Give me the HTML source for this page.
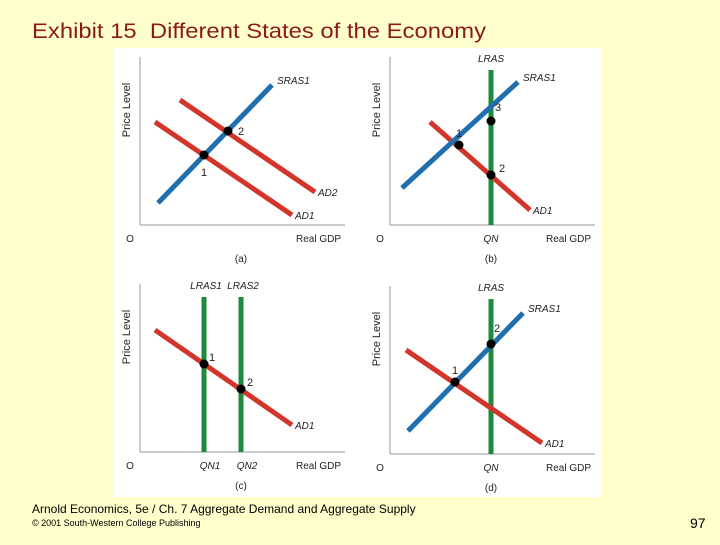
<!DOCTYPE html>
<html><head><meta charset="utf-8"><style>
body{margin:0;width:720px;height:540px;background:#ffffcc;overflow:hidden;font-family:"Liberation Sans",sans-serif}
</style></head><body>
<svg width="720" height="540" xmlns="http://www.w3.org/2000/svg">
<rect width="720" height="540" fill="#ffffcc"/>
<text x="32" y="38" font-size="21" fill="#8b1a1a" xml:space="preserve" textLength="454" lengthAdjust="spacingAndGlyphs">Exhibit 15  Different States of the Economy</text>
<rect x="113" y="48" width="489" height="449" fill="#fff"/>
<g id="charts"></g>
<text x="32" y="513" font-size="12" fill="#000">Arnold Economics, 5e / Ch. 7  Aggregate Demand and Aggregate Supply</text>
<text x="32" y="526" font-size="9" fill="#000">© 2001 South-Western College Publishing</text>
<text x="690" y="528" font-size="14" fill="#000">97</text>
</svg>
<script>
const panelNames=["a","b","c","d"];
const origins=[[140,225],[390,225],[140,452],[390,454]];
const lrasX=[[],[101],[64,101],[101]];
const srasLines=[[[18,22],[132,140]],[[12,37],[128,143]],null,[[18,23],[133,141]]];
const adLines=[[[[15,103],[152,10]],[[40,125],[175,33]]],[[[40,103],[140,15]]],[[[15,122],[152,27]]],[[[16,104],[152,11]]]];
const dots=[[[64,70],[88,94]],[[69,80],[101,50],[101,104]],[[64,88],[101,63]],[[65,72],[101,110]]];
const dotLabels=[["1","2"],["1","2","3"],["1","2"],["1","2"]];
const dotLabelOff=[[[0,17],[13,0]],[[0,-12],[11,-7],[7,-14]],[[8,-7],[9,-7]],[[0,-12],[6,-16]]];
const NS="http://www.w3.org/2000/svg";
const g=document.getElementById("charts");
function mk(t,a,p){const e=document.createElementNS(NS,t);for(const k in a)e.setAttribute(k,a[k]);(p||g).appendChild(e);return e;}
function txt(p,x,y,s,anchor,size,italic){const e=mk("text",{x:x,y:y,"font-size":size||10,"text-anchor":anchor||"start",fill:"#222","font-style":italic?"italic":"normal"},p);e.textContent=s;return e;}
panelNames.forEach((nm,i)=>{
 const [ox,oy]=origins[i];
 const xs=v=>ox+v, ys=v=>oy-v;
 const p=mk("g",{});
 
 
 const w=205;
 mk("line",{x1:ox,y1:oy-168,x2:ox,y2:oy,stroke:"#999","stroke-width":1},p);
 mk("line",{x1:ox,y1:oy,x2:ox+w,y2:oy,stroke:"#999","stroke-width":1},p);
 const pl=txt(p,0,0,"Price Level","middle",11);
 pl.setAttribute("transform","translate("+(ox-10)+","+(oy-115)+") rotate(-90)");
 txt(p,ox-10,oy+17,"O","middle",10);
 txt(p,ox+156,oy+17,"Real GDP","start",10);
 txt(p,ox+101,oy+37,"("+nm+")","middle",10);
 lrasX[i].forEach((lx,j)=>{
  const l=mk("line",{x1:xs(lx),y1:ys(155),x2:xs(lx),y2:ys(0),stroke:"#1e8a3c","stroke-width":5},p);
  
  
  const lab = lrasX[i].length>1 ? "LRAS"+(j+1) : "LRAS";
  txt(p,xs(lx)+(lrasX[i].length>1?2:0),ys(163),lab,"middle",10,true);
  if(i!==0) txt(p,xs(lx)+(lrasX[i].length>1?6:0),oy+17,lrasX[i].length>1?"QN"+(j+1):"QN","middle",10,true);
 });
 adLines[i].forEach((ln,j)=>{
  const l=mk("line",{x1:xs(ln[0][0]),y1:ys(ln[0][1]),x2:xs(ln[1][0]),y2:ys(ln[1][1]),stroke:"#d3352b","stroke-width":5},p);
  
  
  txt(p,xs(ln[1][0])+3,ys(ln[1][1])+4,"AD"+(j+1),"start",10,true);
 });
 if(srasLines[i]){const ln=srasLines[i];
  const l=mk("line",{x1:xs(ln[0][0]),y1:ys(ln[0][1]),x2:xs(ln[1][0]),y2:ys(ln[1][1]),stroke:"#1f6fae","stroke-width":5},p);
  
  
  txt(p,xs(ln[1][0])+5,ys(ln[1][1])-1,"SRAS1","start",10,true);
 }
 dots[i].forEach((d,j)=>{
  const c=mk("circle",{cx:xs(d[0]),cy:ys(d[1]),r:4.5,fill:"#000"},p);
  
  
  const o=dotLabelOff[i][j];
  txt(p,xs(d[0])+o[0],ys(d[1])+o[1]+4,dotLabels[i][j],"middle",11);
 });
});
</script>
</body></html>
